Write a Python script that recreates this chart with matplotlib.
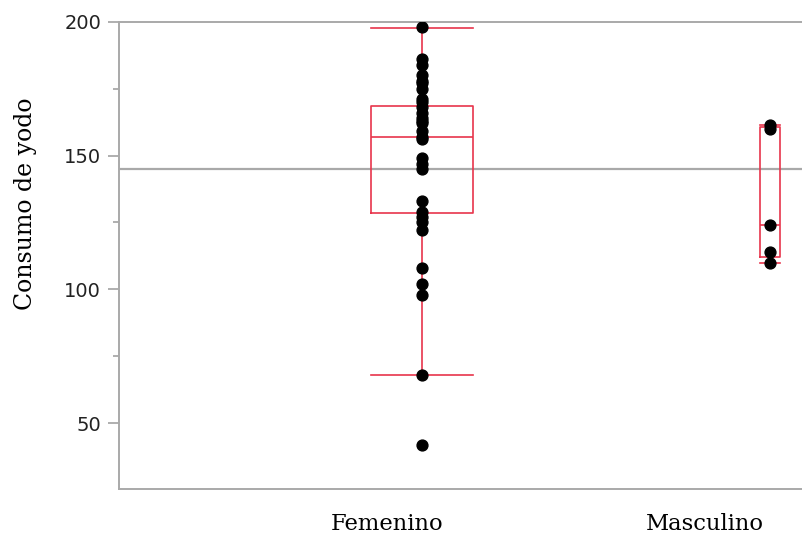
import matplotlib
matplotlib.use("Agg")
import matplotlib.pyplot as plt
import numpy as np

# iodine intake per group
femenino = [198, 186, 184, 180, 178, 177, 175, 171, 170, 168, 166, 164, 163, 162, 159,
            157, 156, 149, 147, 145, 133, 129, 127, 125, 122, 108, 102, 98, 68, 42]
masculino = [161.5, 160, 124, 114, 110]

groups = ["Femenino", "Masculino"]
# box statistics as drawn in the reference (whisker low, q1, median, q3, whisker high)
whis_lo = [68, 110]
q1 = [128.5, 112]
med = [157, 124]
q3 = [168.5, 160.5]
whis_hi = [197.5, 161.5]

yticks = [50, 100, 150, 200]
yminor = [75, 125, 175]

red = "#e8354c"
grey = "#a9a9a9"

fig = plt.figure(figsize=(8.03, 5.37), dpi=100)
ax = fig.add_axes([0.1476, 0.0888, 0.8524, 0.8708])

pos = [0.444, 0.952]
widths = [0.149, 0.03]

stats = []
for i, g in enumerate(groups):
    stats.append(dict(label=g, whislo=whis_lo[i], q1=q1[i], med=med[i], q3=q3[i],
                      whishi=whis_hi[i], fliers=[]))

ax.bxp(stats, positions=pos, widths=widths, capwidths=widths, showfliers=False,
       boxprops=dict(color=red, linewidth=1.2),
       whiskerprops=dict(color=red, linewidth=1.2),
       capprops=dict(color=red, linewidth=1.2),
       medianprops=dict(color=red, linewidth=1.2), manage_ticks=False, zorder=2)

for i, vals in enumerate([femenino, masculino]):
    ax.plot([pos[i]] * len(vals), vals, "o", color="black", markersize=7.8, zorder=3)

grand_mean = np.mean(femenino + masculino)
ax.axhline(grand_mean, color=grey, linewidth=1.6, zorder=1)

ax.set_xlim(0, 1)
ax.set_ylim(25.3, 200)

ax.set_yticks(yticks)
ax.set_yticks(yminor, minor=True)
ax.tick_params(axis="y", which="major", length=8, width=1.3, color=grey, pad=4.5,
               labelsize=14, labelcolor="#222222")
ax.tick_params(axis="y", which="minor", length=4.3, width=1.3, color=grey)

ax.set_xticks([0.393, 0.857])
ax.set_xticklabels(groups, family="DejaVu Serif", fontsize=16.3)
ax.tick_params(axis="x", length=0, pad=17)

for s in ["left", "bottom", "top"]:
    ax.spines[s].set_color(grey)
    ax.spines[s].set_linewidth(1.4)
ax.spines["right"].set_visible(False)

ax.set_ylabel("Consumo de yodo", family="DejaVu Serif", fontsize=17)
ax.yaxis.set_label_coords(-0.119, 0.61)

fig.savefig("out.png", dpi=100)
